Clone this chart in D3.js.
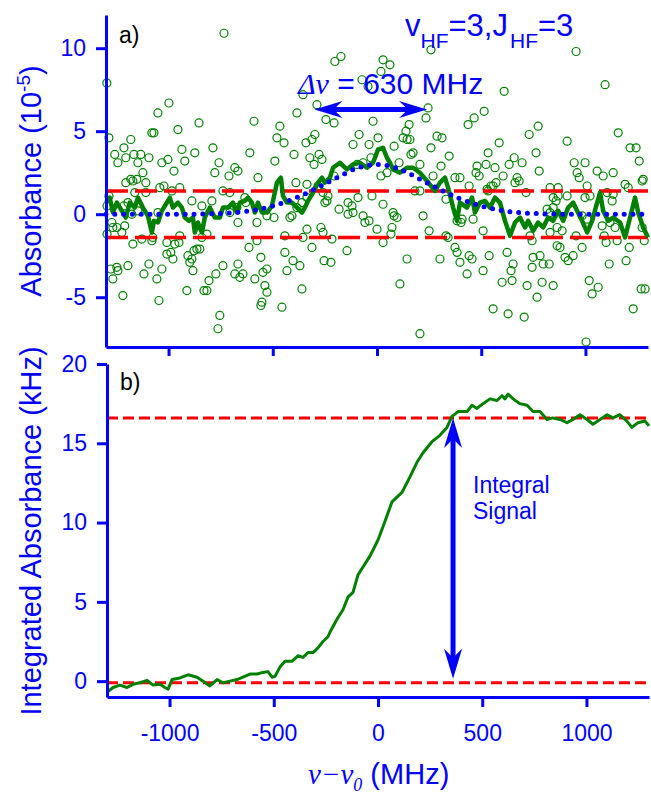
<!DOCTYPE html>
<html>
<head>
<meta charset="utf-8">
<script src="https://cdn.jsdelivr.net/npm/d3@7"></script>
<style>
body { margin: 0; background: #fff; }
svg text { font-family: "Liberation Sans", Arial, sans-serif; }
</style>
</head>
<body>
<script>

// ---- data (MHz, value) ----
const xTicks = [-1000, -500, 0, 500, 1000];
const yTicksA = [-5, 0, 5, 10];
const yTicksB = [0, 5, 10, 15, 20];

// raw absorbance points (10^-5)
const scatterPts = [
  [-734,10.9],[-1296,7.9],[-355,7.2],[-998,6.7],[-1051,6.1],[-384,6.1],[-288,6.6],[-854,5.5],[-590,5.6],[-466,5.3],
  [-245,5.7],[-1286,4.6],[-1181,4.5],[-1080,4.9],[-1070,4.9],[-955,5.1],[-480,4.6],[-446,4.3],[-298,4.8],[-312,4.5],
  [-341,4.3],[-1214,4.0],[-787,4.0],[-936,3.9],[-874,3.7],[-610,3.7],[-1258,3.6],[-1205,3.4],[-1166,3.6],[-1133,3.6],
  [-1094,3.4],[-1243,3.1],[-1147,3.1],[-1032,3.1],[-1003,3.3],[-922,3.2],[-758,3.1],[-682,2.8],[-667,2.6],[-490,3.2],
  [-398,3.6],[-322,3.4],[-278,3.6],[-264,3.3],[-302,3.0],[-974,2.6],[-1123,2.5],[-778,2.5],[-571,2.2],[-710,2.3],
  [-1181,2.1],[-1152,2.1],
  [259,9.9],[955,9.8],[-202,9.2],[-173,9.5],[29,9.3],[62,9.0],[19,8.6],[-72,8.1],[-43,7.7],[610,7.4],
  [1094,7.8],[245,6.4],[514,6.2],[-206,5.5],[235,5.8],[-19,5.6],[154,5.4],[466,5.8],[437,5.4],[773,5.3],
  [730,4.8],[1157,4.9],[-86,4.8],[-115,4.2],[5,4.6],[139,5.0],[125,4.6],[144,4.5],[158,4.5],[288,4.7],
  [312,4.6],[-38,4.2],[82,4.1],[586,4.3],[912,4.4],[1214,4.0],[1243,4.0],[259,4.0],[173,3.7],[163,3.6],
  [346,3.5],[533,3.7],[763,3.7],[-29,3.4],[106,3.1],[307,2.9],[206,3.0],[480,2.9],[523,3.0],[566,2.8],
  [634,3.0],[658,3.4],[696,3.1],[946,3.1],[998,3.1],[1258,3.2],[778,2.6],[960,2.5],[1056,2.6],[1085,2.3],
  [1133,2.5],[475,2.5],[269,2.3],[605,2.3],[672,2.2],[1277,2.1],[19,2.3],[-96,3.0],[-67,3.1],
  [-1205,1.9],[-1171,2.0],[-1109,1.9],[-1042,1.6],[-1022,1.7],[-946,1.6],[-389,1.9],[-336,1.8],[-283,1.7],[-1286,1.1],
  [-1162,1.3],[-1109,1.3],[-984,1.4],[-888,0.8],[-840,0.5],[-792,0.8],[-739,1.4],[-706,1.3],[-634,1.0],[-629,0.7],
  [-1295,0.5],[-1195,0.7],[-1214,0.5],[-1176,0.0],[-1147,0.2],[-1051,0.1],[-706,0.1],[-672,0.4],[-667,-0.5],[-576,-0.5],
  [-528,-0.1],[-494,-0.2],[-418,-0.2],[-384,0.4],[-360,0.7],[-336,1.0],[-250,0.7],[-1295,-1.2],[-1272,-0.5],[-1267,-0.8],
  [-1248,-0.8],[-1224,-1.1],[-1210,-0.7],[-1171,-1.8],[-1128,-1.5],[-1080,-1.6],[-1075,-1.4],[-946,-1.3],[-1008,-1.7],[-970,-1.8],
  [-950,-1.7],[-840,-1.4],[-816,-1.2],[-907,-2.5],[-878,-2.2],[-864,-2.1],[-850,-2.1],[-1008,-2.4],[-989,-2.3],[-979,-2.7],
  [-898,-2.9],[-888,-2.7],[-883,-3.4],[-739,-3.1],[-667,-3.0],[-682,-3.6],[-658,-3.8],[-643,-3.6],[-614,-2.0],[-576,-1.6],
  [-557,-2.6],[-547,-3.5],[-528,-3.3],[-442,-2.3],[-403,-2.8],[-370,-3.1],[-432,-3.4],[-312,-2.0],[-254,-2.8],[-269,-0.8],
  [-259,-1.1],[-355,-1.4],[-336,-0.9],[-442,-1.3],[-408,-0.1],[-1277,-3.3],[-1248,-3.2],[-1195,-3.1],[-1267,-3.9],[-1243,-3.4],
  [-1118,-3.6],[-1094,-3.0],[-1056,-3.9],[-1032,-3.3],[-912,-4.6],[-830,-4.6],[-816,-4.6],[-806,-4.0],[-773,-3.6],[-586,-3.9],
  [-538,-4.3],[-528,-4.7],[-360,-4.5],[-1219,-4.9],[-1046,-5.2],[-552,-5.3],[-557,-5.5],[-456,-5.6],[-754,-6.1],[-763,-6.9],
  [-206,2.3],[48,2.5],[374,2.2],[398,2.2],[490,2.3],[662,1.9],[682,2.0],[571,1.9],[547,1.7],[533,1.4],
  [970,2.2],[1008,1.7],[1190,1.8],[1205,1.6],[1272,2.0],[-259,1.3],[-240,0.8],[-235,1.1],[-182,0.3],[-139,0.7],
  [-120,0.5],[-139,0.0],[-115,0.1],[-91,1.0],[-24,1.1],[-67,-0.1],[-38,-0.4],[-58,-0.5],[29,0.6],[77,0.1],
  [82,-0.1],[96,-0.2],[72,-0.8],[0,-0.9],[67,-1.2],[29,-1.7],[221,-0.1],[250,-1.0],[341,-1.4],[331,-1.3],
  [206,1.4],[182,1.4],[331,0.9],[384,-0.4],[408,-0.3],[403,-0.5],[461,-0.3],[509,-1.0],[442,1.7],[528,1.5],
  [557,1.7],[715,1.3],[830,1.6],[869,1.6],[869,1.1],[845,1.0],[859,0.8],[912,1.1],[816,0.3],[830,0.1],
  [845,0.4],[864,-0.8],[888,-1.0],[830,-1.1],[1022,1.1],[998,1.0],[984,-0.1],[1008,-0.3],[1104,1.3],[1133,1.2],
  [1128,0.8],[1118,-0.5],[1080,-0.7],[1142,-0.8],[1090,-1.3],[1099,-1.7],[1152,-1.6],[1210,-2.0],[1272,-0.8],[1282,-1.6],
  [955,-1.3],[984,-2.0],[878,-2.0],[864,-1.9],[734,-1.3],[744,-1.6],[624,-2.3],[538,-2.5],[374,-2.0],[384,-2.3],
  [398,-2.9],[442,-2.5],[456,-2.7],[432,-3.6],[509,-3.4],[653,-3.0],[643,-3.4],[600,-4.1],[648,-4.0],[749,-2.6],
  [744,-3.2],[782,-2.5],[797,-3.0],[826,-3.0],[792,-4.1],[845,-4.3],[720,-4.3],[768,-5.0],[902,-2.6],[917,-2.8],
  [941,-2.5],[1018,-4.0],[1061,-4.4],[1032,-4.8],[1114,-3.0],[1195,-2.8],[1267,-4.5],[1286,-4.5],[1229,-5.7],[557,-5.7],
  [629,-6.0],[706,-6.2],[110,-4.2],[144,-2.7],[302,-2.7],[-221,-2.9],[-144,-2.2],[-216,-1.5],[206,-7.2],[1003,-7.7]
];

// running average (thick green)
const runAvg = [
  [-1300,0.7],[-1282,1.0],[-1267,0.1],[-1248,0.7],[-1224,0.2],[-1205,-0.2],[-1186,0.7],[-1162,0.4],[-1147,1.0],[-1123,0.4],
  [-1099,-0.1],[-1080,-1.1],[-1070,-0.4],[-1051,-0.5],[-1032,0.2],[-1008,0.7],[-994,1.0],[-979,0.4],[-955,0.7],[-936,0.4],
  [-922,-0.2],[-902,-0.4],[-883,-0.2],[-874,-1.1],[-859,-0.5],[-840,-1.1],[-826,-0.2],[-802,0.4],[-778,-0.2],[-754,-0.2],
  [-739,0.4],[-715,0.4],[-691,0.7],[-672,0.1],[-658,0.7],[-634,0.8],[-619,1.0],[-600,0.7],[-586,0.1],[-571,0.7],
  [-552,0.1],[-528,0.1],[-504,0.5],[-480,1.9],[-461,2.2],[-451,1.1],[-432,0.7],[-408,0.7],[-384,0.4],[-360,0.1],
  [-346,0.4],[-331,0.8],[-307,1.3],[-283,1.9],[-264,2.2],[-250,1.9],[-226,2.2],[-211,2.8],[-178,3.1],[-144,2.7],
  [-115,3.0],[-82,3.1],[-48,2.8],[-19,3.1],[5,3.9],[29,4.0],[48,3.4],[62,3.1],[77,2.7],[110,2.5],
  [144,2.8],[173,2.8],[206,2.5],[240,2.0],[278,1.4],[302,1.9],[326,2.2],[341,1.6],[365,0.4],[384,-0.4],
  [398,0.7],[432,0.4],[456,1.0],[470,0.1],[494,0.7],[518,0.8],[542,0.4],[566,1.0],[590,0.7],[614,-0.4],
  [638,-1.3],[662,-0.5],[686,-0.2],[710,-0.8],[725,-0.4],[749,-1.0],[773,-0.5],[797,-0.8],[821,-0.2],[845,-0.4],
  [869,0.2],[893,-0.4],[917,0.4],[941,0.7],[960,0.2],[984,-0.4],[1008,-1.1],[1032,-0.4],[1056,0.7],[1070,1.3],
  [1085,0.2],[1109,-0.4],[1133,-0.2],[1166,-0.5],[1190,-1.4],[1214,-0.2],[1238,1.0],[1253,0.1],[1277,-0.8],[1300,-1.4]
];

// fitted line (blue dotted)
const fitPts = [
  [-1300,0],[-900,0],[-800,0.02],[-700,0.08],[-600,0.22],[-500,0.5],[-400,0.92],[-300,1.5],[-200,2.15],[-100,2.75],
  [0,3.0],[100,2.75],[200,2.15],[300,1.5],[400,0.92],[500,0.5],[600,0.22],[700,0.08],[800,0.02],[900,0],[1300,0]
];

// integrated absorbance (kHz)
const integral = [
  [-1300,-0.7],[-1271,-0.4],[-1238,-0.25],[-1204,-0.4],[-1175,-0.2],[-1142,-0.1],[-1108,0.05],[-1079,-0.25],[-1046,-0.2],[-1022,-0.4],
  [-1007,-0.5],[-988,0.1],[-950,0.2],[-911,0.4],[-868,0.25],[-839,0.0],[-806,-0.3],[-772,0.1],[-743,-0.1],[-710,0.0],
  [-676,0.1],[-648,0.25],[-614,0.45],[-580,0.45],[-552,0.55],[-528,0.6],[-508,0.25],[-494,0.3],[-470,0.9],[-446,1.25],
  [-413,1.25],[-384,1.6],[-360,1.5],[-336,1.8],[-312,1.8],[-288,2.1],[-264,2.5],[-240,2.8],[-230,3.1],[-197,3.9],
  [-168,4.5],[-144,5.3],[-120,5.6],[-96,6.7],[-72,7.2],[-38,7.9],[0,8.9],[34,10.1],[67,11.3],[115,11.9],
  [154,12.9],[187,13.8],[216,14.4],[259,15.1],[297,15.5],[331,16.0],[355,16.7],[384,17.0],[427,17.0],[451,17.4],
  [475,17.2],[504,17.5],[537,17.8],[571,17.7],[595,18.0],[609,17.8],[624,18.1],[648,17.8],[681,17.5],[715,17.4],
  [744,17.0],[777,17.0],[811,16.5],[839,16.6],[873,16.5],[907,16.3],[935,16.5],[969,16.8],[1003,16.5],[1031,16.2],
  [1065,16.5],[1099,16.8],[1127,16.6],[1161,16.8],[1194,16.4],[1218,16.0],[1247,16.3],[1281,16.4],[1300,16.1]
];

const noiseBand = 1.4;          // red dashed lines, panel a
const plateau = 16.6, floor = -0.1;   // red dashed lines, panel b
const fwhmArrow = [-300, 240], fwhmLevel = 6.3;
const integralAt = 360;

// ---- layout ----
var W = 651, H = 796;
var BLUE = "#0000ff", RED = "#ff0000", GREEN = "#008000";

var svg = d3.select("body").append("svg")
    .attr("width", W)
    .attr("height", H);

var xA = d3.scaleLinear().domain([-1300, 1300]).range([106, 648]);
var yA = d3.scaleLinear().domain([-8, 12]).range([347, 15]);
var xB = d3.scaleLinear().domain([-1300, 1300]).range([107, 649]);
var yB = d3.scaleLinear().domain([-1, 20]).range([697, 364]);

var plain = d => String(d);   // "-1000" rather than "−1,000"

function styleAxis(g) {
    g.attr("font-family", null).attr("font-size", null);
    g.select(".domain").attr("stroke", BLUE).attr("stroke-width", 3);
    g.selectAll(".tick line").attr("stroke", BLUE).attr("stroke-width", 3);
    g.selectAll(".tick text").attr("fill", BLUE).style("font-size", "23px");
}

function arrowHead(tx, ty, ang, L, Wd, notch) {
    var c = Math.cos(ang), s = Math.sin(ang);
    var bx = tx - L * c, by = ty - L * s;
    var pts = [[tx, ty], [bx - Wd * s, by + Wd * c], [tx - (L - notch) * c, ty - (L - notch) * s], [bx + Wd * s, by - Wd * c]];
    return "M" + pts.map(p => p[0] + "," + p[1]).join("L") + "Z";
}

// ======== panel a ========
var gA = svg.append("g");

gA.selectAll("circle.raw")
    .data(scatterPts)
    .enter().append("circle")
    .attr("class", "raw")
    .attr("cx", d => xA(d[0]))
    .attr("cy", d => yA(d[1]))
    .attr("r", 4)
    .attr("fill", "none")
    .attr("stroke", GREEN)
    .attr("stroke-width", 1.2);

[noiseBand, -noiseBand].forEach(function (v) {
    gA.append("line")
        .attr("x1", xA(-1300)).attr("x2", xA(1300))
        .attr("y1", yA(v)).attr("y2", yA(v))
        .attr("stroke", RED).attr("stroke-width", 3.5)
        .attr("stroke-dasharray", "22,7");
});

gA.append("path")
    .datum(runAvg)
    .attr("fill", "none")
    .attr("stroke", GREEN)
    .attr("stroke-width", 4.5)
    .attr("stroke-linejoin", "round")
    .attr("d", d3.line().x(d => xA(d[0])).y(d => yA(d[1])));

gA.append("path")
    .datum(fitPts)
    .attr("fill", "none")
    .attr("stroke", BLUE)
    .attr("stroke-width", 5)
    .attr("stroke-linecap", "round")
    .attr("stroke-dasharray", "0,8.8")
    .attr("d", d3.line().curve(d3.curveMonotoneX).x(d => xA(d[0])).y(d => yA(d[1])));

gA.append("g")
    .attr("transform", "translate(0," + yA(-8) + ")")
    .call(d3.axisBottom(xA).tickValues(xTicks).tickSize(9).tickSizeOuter(0).tickFormat(""))
    .call(styleAxis);

gA.append("g")
    .attr("transform", "translate(" + xA(-1300) + ",0)")
    .call(d3.axisLeft(yA).tickValues(yTicksA).tickSize(10).tickPadding(10).tickSizeOuter(0).tickFormat(plain))
    .call(styleAxis);

// FWHM double arrow
var ax1 = xA(fwhmArrow[0]), ax2 = xA(fwhmArrow[1]), ay = yA(fwhmLevel);
gA.append("line")
    .attr("x1", ax1 + 18).attr("x2", ax2 - 18)
    .attr("y1", ay).attr("y2", ay)
    .attr("stroke", BLUE).attr("stroke-width", 5);
gA.append("path").attr("d", arrowHead(ax2, ay, 0, 28, 8.5, 9)).attr("fill", BLUE);
gA.append("path").attr("d", arrowHead(ax1, ay, Math.PI, 28, 8.5, 9)).attr("fill", BLUE);

var dnu = gA.append("text").attr("x", 298).attr("y", 94).attr("fill", BLUE).style("font-size", "30px");
dnu.append("tspan").style("font-family", "'Liberation Serif', serif").style("font-style", "italic").text("\u0394\u03bd");
dnu.append("tspan").text(" = 630 MHz");

var hf = gA.append("text").attr("x", 405).attr("y", 36).attr("fill", BLUE).style("font-size", "31px");
hf.append("tspan").text("v");
hf.append("tspan").attr("dy", 12).style("font-size", "21px").text("HF");
hf.append("tspan").attr("dy", -12).text("=3,J");
hf.append("tspan").attr("dy", 12).attr("dx", 2).style("font-size", "21px").text("HF");
hf.append("tspan").attr("dy", -12).text("=3");

gA.append("text").attr("x", 119).attr("y", 43).style("font-size", "23px").attr("fill", "#000").text("a)");

var labA = svg.append("text")
    .attr("transform", "translate(41,181) rotate(-90)")
    .attr("text-anchor", "middle")
    .attr("fill", BLUE)
    .style("font-size", "29px");
labA.append("tspan").text("Absorbance (10");
labA.append("tspan").attr("dy", -11).style("font-size", "19px").text("-5");
labA.append("tspan").attr("dy", 11).text(")");

// ======== panel b ========
var gB = svg.append("g");

[plateau, floor].forEach(function (v) {
    gB.append("line")
        .attr("x1", xB(-1300)).attr("x2", xB(1300))
        .attr("y1", yB(v)).attr("y2", yB(v))
        .attr("stroke", RED).attr("stroke-width", 3)
        .attr("stroke-dasharray", "11,5");
});

gB.append("path")
    .datum(integral)
    .attr("fill", "none")
    .attr("stroke", GREEN)
    .attr("stroke-width", 3)
    .attr("stroke-linejoin", "round")
    .attr("d", d3.line().x(d => xB(d[0])).y(d => yB(d[1])));

gB.append("g")
    .attr("transform", "translate(0," + yB(-1) + ")")
    .call(d3.axisBottom(xB).tickValues(xTicks).tickSize(10).tickPadding(18).tickSizeOuter(0).tickFormat(plain))
    .call(styleAxis);

gB.append("g")
    .attr("transform", "translate(" + xB(-1300) + ",0)")
    .call(d3.axisLeft(yB).tickValues(yTicksB).tickSize(10).tickPadding(10).tickSizeOuter(0).tickFormat(plain))
    .call(styleAxis);

// integral signal arrow
var vx = xB(integralAt), vy1 = yB(plateau), vy2 = yB(floor) - 4;
gB.append("line")
    .attr("x1", vx).attr("x2", vx)
    .attr("y1", vy1 + 20).attr("y2", vy2 - 20)
    .attr("stroke", BLUE).attr("stroke-width", 5);
gB.append("path").attr("d", arrowHead(vx, vy1, -Math.PI / 2, 30, 9, 9)).attr("fill", BLUE);
gB.append("path").attr("d", arrowHead(vx, vy2, Math.PI / 2, 30, 9, 9)).attr("fill", BLUE);

var sig = gB.append("text").attr("x", 473).attr("y", 493).attr("fill", BLUE).style("font-size", "23px");
sig.append("tspan").attr("x", 473).text("Integral");
sig.append("tspan").attr("x", 473).attr("dy", 26).text("Signal");

gB.append("text").attr("x", 120).attr("y", 390).style("font-size", "23px").attr("fill", "#000").text("b)");

svg.append("text")
    .attr("transform", "translate(41,531) rotate(-90)")
    .attr("text-anchor", "middle")
    .attr("fill", BLUE)
    .style("font-size", "29px")
    .text("Integrated Absorbance (kHz)");

var labX = svg.append("text").attr("x", 308).attr("y", 784).attr("fill", BLUE).style("font-size", "29px");
labX.append("tspan").style("font-family", "'Liberation Serif', serif").style("font-style", "italic").text("\u03bd\u2212\u03bd");
labX.append("tspan").attr("dy", 7).style("font-family", "'Liberation Serif', serif").style("font-style", "italic").style("font-size", "18px").text("0");
labX.append("tspan").attr("dy", -7).text(" (MHz)");

</script>
</body>
</html>
